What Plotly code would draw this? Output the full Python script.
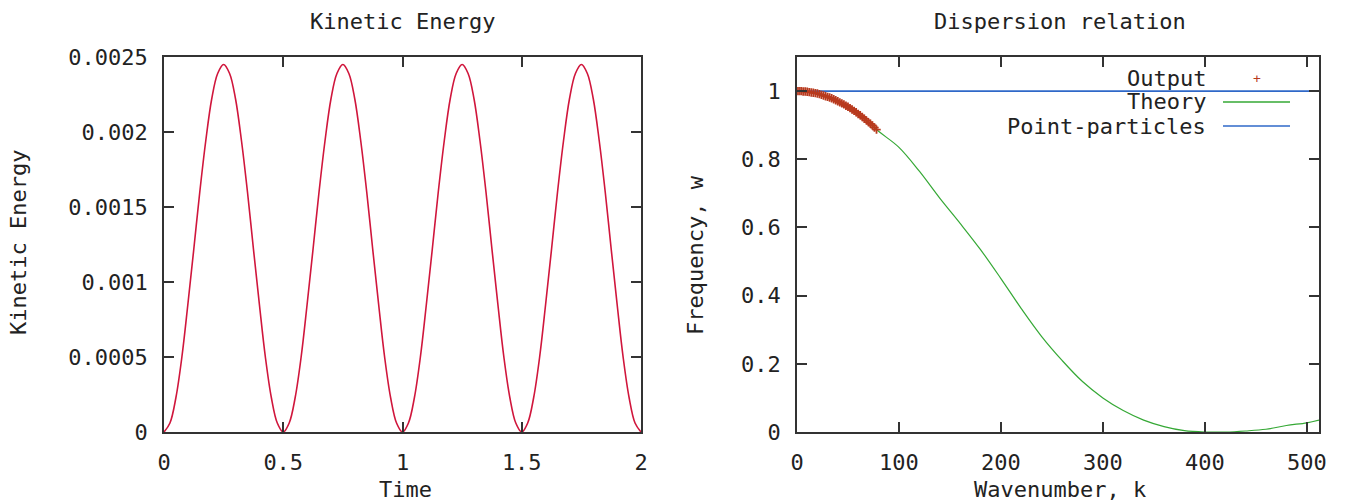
import plotly.graph_objects as go

# ---- Kinetic energy data ----
time = [0.0, 0.025, 0.05, 0.075, 0.1, 0.125, 0.15, 0.175, 0.2, 0.225,
        0.25, 0.275, 0.3, 0.325, 0.35, 0.375, 0.4, 0.425, 0.45, 0.475,
        0.5, 0.525, 0.55, 0.575, 0.6, 0.625, 0.65, 0.675, 0.7, 0.725,
        0.75, 0.775, 0.8, 0.825, 0.85, 0.875, 0.9, 0.925, 0.95, 0.975,
        1.0, 1.025, 1.05, 1.075, 1.1, 1.125, 1.15, 1.175, 1.2, 1.225,
        1.25, 1.275, 1.3, 1.325, 1.35, 1.375, 1.4, 1.425, 1.45, 1.475,
        1.5, 1.525, 1.55, 1.575, 1.6, 1.625, 1.65, 1.675, 1.7, 1.725,
        1.75, 1.775, 1.8, 1.825, 1.85, 1.875, 1.9, 1.925, 1.95, 1.975,
        2.0]
kinetic = [0, 0.00006, 0.00023, 0.00050, 0.00085, 0.00122, 0.00160, 0.00194, 0.00222, 0.00239,
           0.00245, 0.00239, 0.00222, 0.00194, 0.00160, 0.00122, 0.00085, 0.00050, 0.00023, 0.00006,
           0, 0.00006, 0.00023, 0.00050, 0.00085, 0.00122, 0.00160, 0.00194, 0.00222, 0.00239,
           0.00245, 0.00239, 0.00222, 0.00194, 0.00160, 0.00122, 0.00085, 0.00050, 0.00023, 0.00006,
           0, 0.00006, 0.00023, 0.00050, 0.00085, 0.00122, 0.00160, 0.00194, 0.00222, 0.00239,
           0.00245, 0.00239, 0.00222, 0.00194, 0.00160, 0.00122, 0.00085, 0.00050, 0.00023, 0.00006,
           0, 0.00006, 0.00023, 0.00050, 0.00085, 0.00122, 0.00160, 0.00194, 0.00222, 0.00239,
           0.00245, 0.00239, 0.00222, 0.00194, 0.00160, 0.00122, 0.00085, 0.00050, 0.00023, 0.00006,
           0]

# ---- Dispersion relation data ----
output_k = [0, 2, 4, 6, 8, 10, 12, 14, 16, 18, 20, 22, 24, 26, 28, 30, 32, 34, 36, 38,
            40, 42, 44, 46, 48, 50, 52, 54, 56, 58, 60, 62, 64, 66, 68, 70, 72, 74, 76, 78]
output_w = [1.000, 1.000, 1.000, 0.999, 0.999, 0.998, 0.997, 0.996, 0.995, 0.994,
            0.993, 0.991, 0.989, 0.987, 0.985, 0.983, 0.981, 0.979, 0.976, 0.973,
            0.970, 0.967, 0.964, 0.961, 0.957, 0.954, 0.950, 0.946, 0.942, 0.938,
            0.933, 0.929, 0.924, 0.919, 0.914, 0.909, 0.904, 0.899, 0.893, 0.887]

theory_k = [0, 20, 40, 60, 80, 100, 120, 140, 160, 180, 200, 220, 240, 260, 280,
            300, 320, 340, 360, 380, 400, 420, 440, 460, 480, 500, 512]
theory_w = [1.0, 0.993, 0.970, 0.933, 0.882, 0.835, 0.765, 0.686, 0.612, 0.535, 0.450,
            0.362, 0.280, 0.210, 0.148, 0.100, 0.063, 0.035, 0.016, 0.004, 0.0,
            0.0, 0.003, 0.008, 0.019, 0.027, 0.035]

point_k = [0, 512]
point_w = [1.0, 1.0]

ke_xticks = [0, 0.5, 1, 1.5, 2]
ke_xtext = ["0", "0.5", "1", "1.5", "2"]
ke_yticks = [0, 0.0005, 0.001, 0.0015, 0.002, 0.0025]
ke_ytext = ["0", "0.0005", "0.001", "0.0015", "0.002", "0.0025"]
dr_xticks = [0, 100, 200, 300, 400, 500]
dr_xtext = ["0", "100", "200", "300", "400", "500"]
dr_yticks = [0, 0.2, 0.4, 0.6, 0.8, 1]
dr_ytext = ["0", "0.2", "0.4", "0.6", "0.8", "1"]

legend_names = ["Output", "Theory", "Point-particles"]

RED = "#d0163c"
OUT = "#b83a1e"
GREEN = "#35a835"
BLUE = "#2f68c8"
TXT = "#222222"
FONT = "DejaVu Sans Mono"
FS = 22

W, H = 1349, 504


def px_x(v):
    return v / W


def px_y(v):
    return 1 - v / H


fig = go.Figure()

fig.add_trace(go.Scatter(x=time, y=kinetic, mode="lines", line=dict(color=RED, width=1.6, shape="spline"),
                         xaxis="x", yaxis="y", showlegend=False))

fig.add_trace(go.Scatter(x=point_k, y=point_w, mode="lines", line=dict(color=BLUE, width=1.6),
                         xaxis="x2", yaxis="y2", name=legend_names[2], showlegend=False))
fig.add_trace(go.Scatter(x=theory_k, y=theory_w, mode="lines", line=dict(color=GREEN, width=1.2, shape="spline"),
                         xaxis="x2", yaxis="y2", name=legend_names[1], showlegend=False))
fig.add_trace(go.Scatter(x=output_k, y=output_w, mode="markers",
                         marker=dict(symbol="cross-thin", size=6, line=dict(color=OUT, width=1.8), color=OUT),
                         xaxis="x2", yaxis="y2", name=legend_names[0], showlegend=False))

ydom = [px_y(432), px_y(57)]
axis_common = dict(showline=True, linecolor="#333333", linewidth=1.5, mirror="ticks",
                   ticks="inside", ticklen=10, tickwidth=1.5, tickcolor="#333333",
                   showgrid=False, zeroline=False, ticklabelstandoff=10, automargin=False,
                   tickfont=dict(family=FONT, size=FS, color=TXT))

fig.update_layout(
    width=W, height=H, autosize=False,
    margin=dict(l=0, r=0, t=0, b=0, pad=0, autoexpand=False),
    paper_bgcolor="white", plot_bgcolor="white",
    xaxis=dict(domain=[px_x(164), px_x(641)], range=[0, 2], tickvals=ke_xticks, ticktext=ke_xtext,
               anchor="y", **axis_common),
    yaxis=dict(domain=ydom, range=[0, 0.0025], tickvals=ke_yticks, ticktext=ke_ytext,
               anchor="x", **axis_common),
    xaxis2=dict(domain=[px_x(797), px_x(1319)], range=[0, 512], tickvals=dr_xticks, ticktext=dr_xtext,
                anchor="y2", **axis_common),
    yaxis2=dict(domain=ydom, range=[0, 1.1], tickvals=dr_yticks, ticktext=dr_ytext,
                anchor="x2", **axis_common),
    showlegend=False,
)

ann_font = dict(family=FONT, size=FS, color=TXT)
annotations = [
    dict(text="Kinetic Energy", x=px_x(402), y=px_y(22)),
    dict(text="Dispersion relation", x=px_x(1060), y=px_y(22)),
    dict(text="Time", x=px_x(405), y=px_y(489)),
    dict(text="Wavenumber, k", x=px_x(1060), y=px_y(489)),
    dict(text="Kinetic Energy", x=px_x(18), y=px_y(243), textangle=-90),
    dict(text="Frequency, w", x=px_x(695), y=px_y(255), textangle=-90),
]
for a in annotations:
    fig.add_annotation(xref="paper", yref="paper", showarrow=False, xanchor="center", yanchor="middle",
                       font=ann_font, **a)

# gnuplot-style legend (text right-aligned, sample on the right)
rows = [78, 102, 126]
for name, ry in zip(legend_names, rows):
    fig.add_annotation(xref="paper", yref="paper", showarrow=False, xanchor="right", yanchor="middle",
                       x=px_x(1208), y=px_y(ry), text=name, font=ann_font)
fig.add_annotation(xref="paper", yref="paper", showarrow=False, xanchor="center", yanchor="middle",
                   x=px_x(1257), y=px_y(rows[0]), text="+", font=dict(family=FONT, size=13, color=OUT))
fig.add_shape(type="line", xref="paper", yref="paper", x0=px_x(1223), x1=px_x(1290),
              y0=px_y(rows[1]), y1=px_y(rows[1]), line=dict(color=GREEN, width=1.6))
fig.add_shape(type="line", xref="paper", yref="paper", x0=px_x(1223), x1=px_x(1290),
              y0=px_y(rows[2]), y1=px_y(rows[2]), line=dict(color=BLUE, width=1.6))

fig.write_html("out.html")
